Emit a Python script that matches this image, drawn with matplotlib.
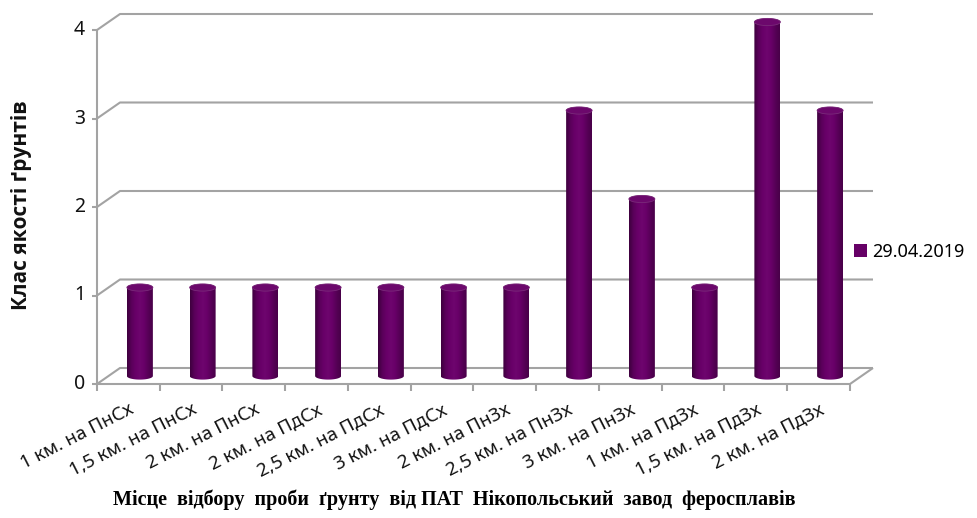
import numpy as np
import matplotlib
matplotlib.use("Agg")
import matplotlib.pyplot as plt
from matplotlib.path import Path
from matplotlib.patches import PathPatch, Ellipse, Patch
from matplotlib.colors import LinearSegmentedColormap

# ---- data ----
categories = [
    "1 км. на ПнСх", "1,5 км. на ПнСх", "2 км. на ПнСх", "2 км. на ПдСх",
    "2,5 км. на ПдСх", "3 км. на ПдСх", "2 км. на ПнЗх", "2,5 км. на ПнЗх",
    "3 км. на ПнЗх", "1 км. на ПдЗх", "1,5 км. на ПдЗх", "2 км. на ПдЗх",
]
values = [1, 1, 1, 1, 1, 1, 1, 3, 2, 1, 4, 3]
y_ticks = [0, 1, 2, 3, 4]
series_name = "29.04.2019"
y_title = "Клас якості ґрунтів"
x_title = "Місце  відбору  проби  ґрунту  від ПАТ  Нікопольський  завод  феросплавів"

W, H = 978, 518
fig = plt.figure(figsize=(W / 100, H / 100), dpi=100)

# plot area (front plane of the 3D box)
x0, x1, y0, y1 = 97, 850, 384, 30
ax = fig.add_axes([x0 / W, (H - y0) / H, (x1 - x0) / W, (y0 - y1) / H])
n = len(categories)
ax.set_xlim(0, n)
ax.set_ylim(0, max(y_ticks))
ax.axis("off")

px_x = (x1 - x0) / n            # pixels per category
px_y = (y0 - y1) / max(y_ticks)  # pixels per unit
DX = 23 / px_x                  # depth offset in data units
DY = 16 / px_y

grid_col = "#a3a3a3"
lw = 1.5
kw = dict(color=grid_col, lw=lw, clip_on=False, solid_capstyle="butt")

# side-wall diagonals and back-wall gridlines
for v in y_ticks:
    ax.plot([0, DX, n + DX], [v, v + DY, v + DY], **kw)
    ax.plot([-5 / px_x, 0], [v, v], **kw)
    ax.text(-12 / px_x, v, str(v), ha="right", va="center",
            fontsize=14, family="Noto Sans", color="#111111")

# floor front edge, right edge, value axis
ax.plot([0, n, n + DX], [0, 0, DY], **kw)
ax.plot([0, 0], [0, max(y_ticks)], **kw)
for k in range(n + 1):
    ax.plot([k, k], [0, -7 / px_y], **kw)

# cylinders
cmap = LinearSegmentedColormap.from_list(
    "cyl", ["#3e003e", "#5a005a", "#680068", "#6e056e", "#680068", "#560056", "#480048"])
grad = np.linspace(0, 1, 64).reshape(1, -1)
half_w = 13 / px_x
eh = 3.6 / px_y  # half height of the elliptical caps

for i, v in enumerate(values):
    cx = i + 0.5 + DX / 2
    base = DY / 2
    top = v + DY / 2
    t = np.linspace(np.pi, 2 * np.pi, 40)
    bottom_arc = [(cx + half_w * np.cos(a), base + eh * np.sin(a)) for a in t]
    t2 = np.linspace(0, np.pi, 40)
    top_arc = [(cx + half_w * np.cos(a), top + eh * np.sin(a)) for a in t2]
    verts = [(cx - half_w, top)] + bottom_arc + [(cx + half_w, top)] + top_arc
    verts.append(verts[0])
    codes = [Path.MOVETO] + [Path.LINETO] * (len(verts) - 2) + [Path.CLOSEPOLY]
    body = PathPatch(Path(verts, codes), facecolor="none", edgecolor="none",
                     clip_on=False)
    ax.add_patch(body)
    im = ax.imshow(grad, cmap=cmap, aspect="auto",
                   extent=[cx - half_w, cx + half_w, base - eh, top + eh],
                   zorder=3, interpolation="bilinear")
    im.set_clip_path(body)
    im.set_clip_box(fig.bbox)
    cap = Ellipse((cx, top), 2 * half_w, 2 * eh, facecolor="#6c086c",
                  edgecolor="#7a2a7a", lw=0.6, zorder=4, clip_on=False)
    ax.add_patch(cap)

ax.set_xlim(0, n)
ax.set_ylim(0, max(y_ticks))

# category labels
for i, c in enumerate(categories):
    ax.text(i + 0.5, -16.5 / px_y, c, rotation=27, rotation_mode="anchor",
            ha="right", va="top", fontsize=13.5, family="Noto Sans",
            color="#111111")

# axis titles
fig.text(22 / W, 1 - 205 / H, y_title, rotation=90, ha="center", va="center",
         fontsize=15, fontweight="bold", family=["Open Sans", "DejaVu Sans"],
         color="#111111")
fig.text(454 / W, 1 - 500 / H, x_title, ha="center", va="center",
         fontsize=14.5, fontweight="bold", family="Liberation Serif", color="#000000")

# legend
handle = Patch(facecolor="#660066", edgecolor="none")
fig.legend([handle], [series_name], loc="center left",
           bbox_to_anchor=(838 / W, 1 - 252 / H), frameon=False,
           handlelength=0.7, handleheight=0.7, handletextpad=0.3,
           prop={"family": "Noto Sans", "size": 13})

fig.savefig("out.png", dpi=100)
